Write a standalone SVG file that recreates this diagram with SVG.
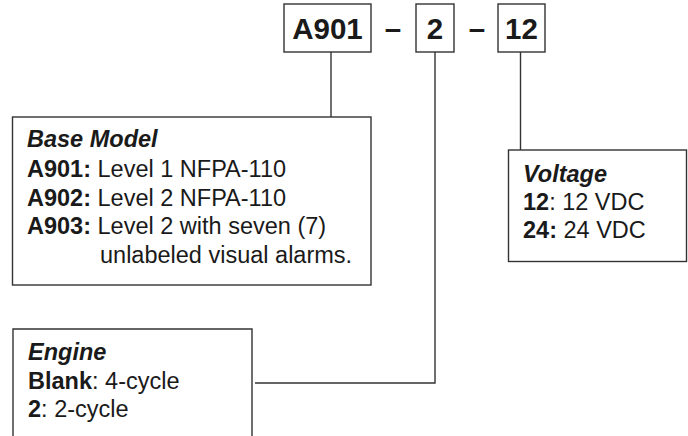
<svg xmlns="http://www.w3.org/2000/svg" width="688" height="436" viewBox="0 0 688 436">
<style>
.box{fill:#fff;stroke:#333;stroke-width:1.4}
.ln{fill:none;stroke:#333;stroke-width:1.4}
text{font-family:"Liberation Sans",Arial,sans-serif;fill:#1a1a1a}
.code{font-size:29.5px;font-weight:bold}
.t{font-size:23.5px}
.h{font-weight:bold;font-style:italic}
.b{font-weight:bold}
</style>
<rect width="688" height="436" fill="#fff"/>
<g id="connectors">
<path class="ln" d="M331,52 V117"/>
<path class="ln" d="M435,52 V383 H255"/>
<path class="ln" d="M520.5,52 V150"/>
</g>
<g id="code-a901">
<rect class="box" x="284" y="4" width="87" height="48"/>
<text class="code" x="327.5" y="39" text-anchor="middle">A901</text>
</g>
<text class="code" x="393" y="39" text-anchor="middle">–</text>
<g id="code-2">
<rect class="box" x="416" y="4" width="38" height="48"/>
<text class="code" x="435" y="39" text-anchor="middle">2</text>
</g>
<text class="code" x="477" y="39" text-anchor="middle">–</text>
<g id="code-12">
<rect class="box" x="498" y="4" width="47" height="48"/>
<text class="code" x="521.5" y="39" text-anchor="middle">12</text>
</g>
<g id="base-model">
<rect class="box" x="12.5" y="117" width="358.5" height="168"/>
<text class="t h" x="27" y="147">Base Model</text>
<text class="t" x="27" y="177"><tspan class="b">A901:</tspan> Level 1 NFPA-110</text>
<text class="t" x="27" y="206"><tspan class="b">A902:</tspan> Level 2 NFPA-110</text>
<text class="t" x="27" y="234"><tspan class="b">A903:</tspan> Level 2 with seven (7)</text>
<text class="t" x="100" y="263">unlabeled visual alarms.</text>
</g>
<g id="voltage">
<rect class="box" x="508.5" y="150" width="178" height="111.5"/>
<text class="t h" x="523" y="182">Voltage</text>
<text class="t" x="523" y="210"><tspan class="b">12</tspan>: 12 VDC</text>
<text class="t" x="523" y="238"><tspan class="b">24:</tspan> 24 VDC</text>
</g>
<g id="engine">
<path class="box" d="M13,440 V329 H252 V440"/>
<text class="t h" x="28" y="360">Engine</text>
<text class="t" x="28" y="389"><tspan class="b">Blank</tspan>: 4-cycle</text>
<text class="t" x="28" y="417"><tspan class="b">2</tspan>: 2-cycle</text>
</g>
</svg>
